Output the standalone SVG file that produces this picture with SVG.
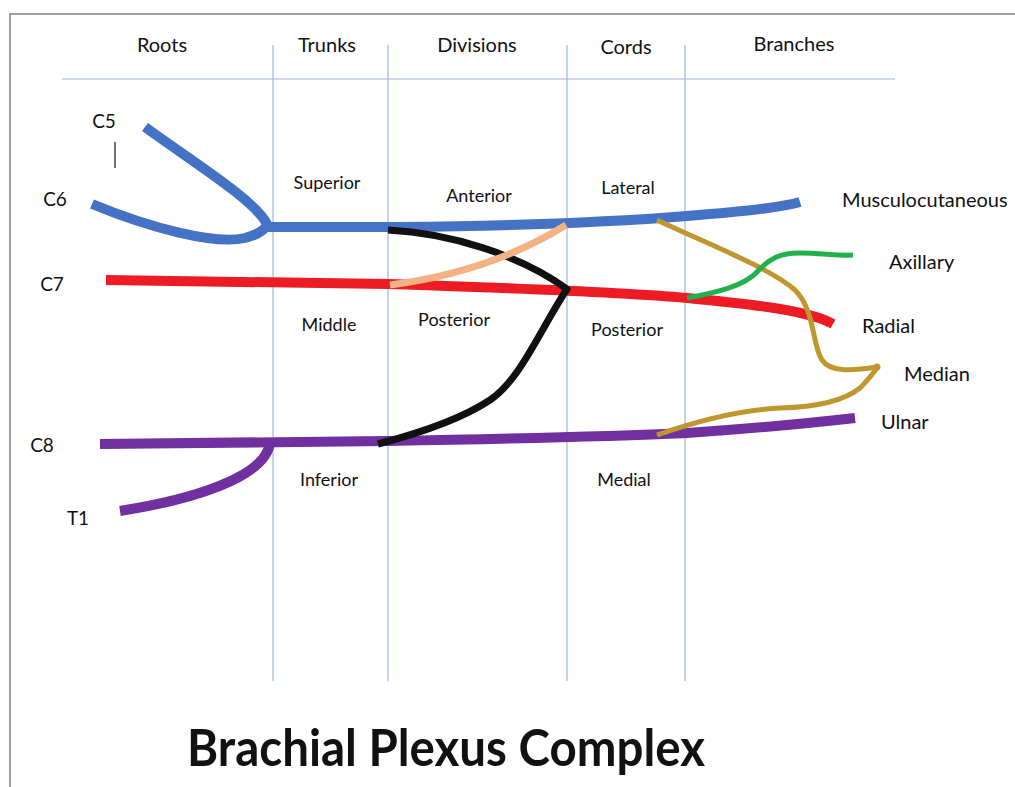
<svg xmlns="http://www.w3.org/2000/svg" width="1015" height="787" viewBox="0 0 1015 787">
  <style>
    .frame { stroke: #808080; stroke-width: 1.5; fill: none; }
    .grid { stroke: #9db4e3; stroke-width: 1.2; fill: none; }
    .nerve { fill: none; stroke-linecap: butt; stroke-linejoin: round; }
    .blue { stroke: #4472c4; stroke-width: 10; }
    .red { stroke: #ed1c24; stroke-width: 10; }
    .purple { stroke: #7030a0; stroke-width: 10; }
    .black { stroke: #111111; stroke-width: 7; }
    .peach { stroke: #f4b183; stroke-width: 7; }
    .gold { stroke: #c0972f; stroke-width: 5; }
    .green { stroke: #22b04b; stroke-width: 5; }
    text { font-family: Lato, "Open Sans", "Liberation Sans", sans-serif; fill: #111111; }
    .head { font-size: 20px; text-anchor: middle; }
    .zone { font-size: 18px; text-anchor: middle; }
    .root { font-size: 19px; text-anchor: middle; }
    .branch { font-size: 20px; }
    .title { font-size: 51px; font-weight: bold; }
  </style>

  <!-- page frame -->
  <path class="frame" d="M10,787 L10,14 L1015,14"/>

  <!-- column grid -->
  <g id="grid">
    <line class="grid" x1="62" y1="79" x2="895" y2="79"/>
    <line class="grid" x1="273" y1="45" x2="273" y2="681"/>
    <line class="grid" x1="388" y1="45" x2="388" y2="681"/>
    <line class="grid" x1="567" y1="45" x2="567" y2="681"/>
    <line class="grid" x1="685" y1="45" x2="685" y2="681"/>
  </g>

  <!-- column headings -->
  <g id="headings">
    <text class="head" x="162" y="52">Roots</text>
    <text class="head" x="327" y="52">Trunks</text>
    <text class="head" x="477" y="52">Divisions</text>
    <text class="head" x="626" y="54">Cords</text>
    <text class="head" x="794" y="51">Branches</text>
  </g>

  <!-- nerve paths -->
  <g id="connectors">
    <!-- superior trunk: C5 + C6 -->
    <path class="nerve blue" d="M145,127 C190,160 255,200 267,224"/>
    <path class="nerve blue" d="M92,204 C150,228 215,245 245,238 C260,234 266,228 268,224"/>
    <path class="nerve blue" d="M263,227 L400,227 C500,226 600,223 687,216 C740,212 780,208 800,202"/>
    <!-- middle trunk: C7 -> radial -->
    <path class="nerve red" d="M106,280 L388,284 C480,287 620,292 687,298 C760,305 810,311 833,324"/>
    <!-- inferior trunk: C8 + T1 -> ulnar -->
    <path class="nerve purple" d="M100,444 L388,441 C500,439 620,436 687,433 C760,428 820,422 855,418"/>
    <path class="nerve purple" d="M120,511 C190,500 265,478 270,443"/>
    <!-- posterior divisions -->
    <path class="nerve black" d="M388,230 C450,233 520,255 567,289 C540,330 520,380 490,400 C460,420 420,433 378,444"/>
    <!-- anterior division of middle trunk -->
    <path class="nerve peach" d="M390,285 Q490,272 566,225"/>
    <!-- median nerve roots -->
    <path class="nerve gold" d="M657,220 C710,245 770,268 795,290 C815,310 812,345 822,360 C830,372 850,371 877,367"/>
    <path class="nerve gold" d="M657,435 C700,420 740,410 780,408 C820,407 845,400 860,388 C868,380 874,372 878,367"/>
    <circle cx="877" cy="367" r="3.5" fill="#c0972f"/>
    <!-- axillary nerve -->
    <path class="nerve green" d="M687,298 C720,292 745,285 757,272 C770,258 780,253 800,253 C820,253 840,256 853,255"/>
    <!-- C5 marker -->
    <line x1="115" y1="142" x2="115" y2="168" stroke="#222222" stroke-width="1.3"/>
  </g>

  <!-- roots -->
  <g id="root-C5"><text class="root" x="104" y="128">C5</text></g>
  <g id="root-C6"><text class="root" x="55" y="206">C6</text></g>
  <g id="root-C7"><text class="root" x="52" y="291">C7</text></g>
  <g id="root-C8"><text class="root" x="42" y="452">C8</text></g>
  <g id="root-T1"><text class="root" x="78" y="525">T1</text></g>

  <!-- trunks -->
  <g id="trunk-superior"><text class="zone" x="327" y="189">Superior</text></g>
  <g id="trunk-middle"><text class="zone" x="329" y="331">Middle</text></g>
  <g id="trunk-inferior"><text class="zone" x="329" y="486">Inferior</text></g>

  <!-- divisions -->
  <g id="division-anterior"><text class="zone" x="479" y="202">Anterior</text></g>
  <g id="division-posterior"><text class="zone" x="454" y="326">Posterior</text></g>

  <!-- cords -->
  <g id="cord-lateral"><text class="zone" x="628" y="194">Lateral</text></g>
  <g id="cord-posterior"><text class="zone" x="627" y="336">Posterior</text></g>
  <g id="cord-medial"><text class="zone" x="624" y="486">Medial</text></g>

  <!-- branches -->
  <g id="branch-musculocutaneous"><text class="branch" x="842" y="207">Musculocutaneous</text></g>
  <g id="branch-axillary"><text class="branch" x="889" y="269">Axillary</text></g>
  <g id="branch-radial"><text class="branch" x="862" y="333">Radial</text></g>
  <g id="branch-median"><text class="branch" x="904" y="381">Median</text></g>
  <g id="branch-ulnar"><text class="branch" x="881" y="429">Ulnar</text></g>

  <!-- caption -->
  <g id="title"><text class="title" x="187" y="766" textLength="518" lengthAdjust="spacingAndGlyphs">Brachial Plexus Complex</text></g>
</svg>
